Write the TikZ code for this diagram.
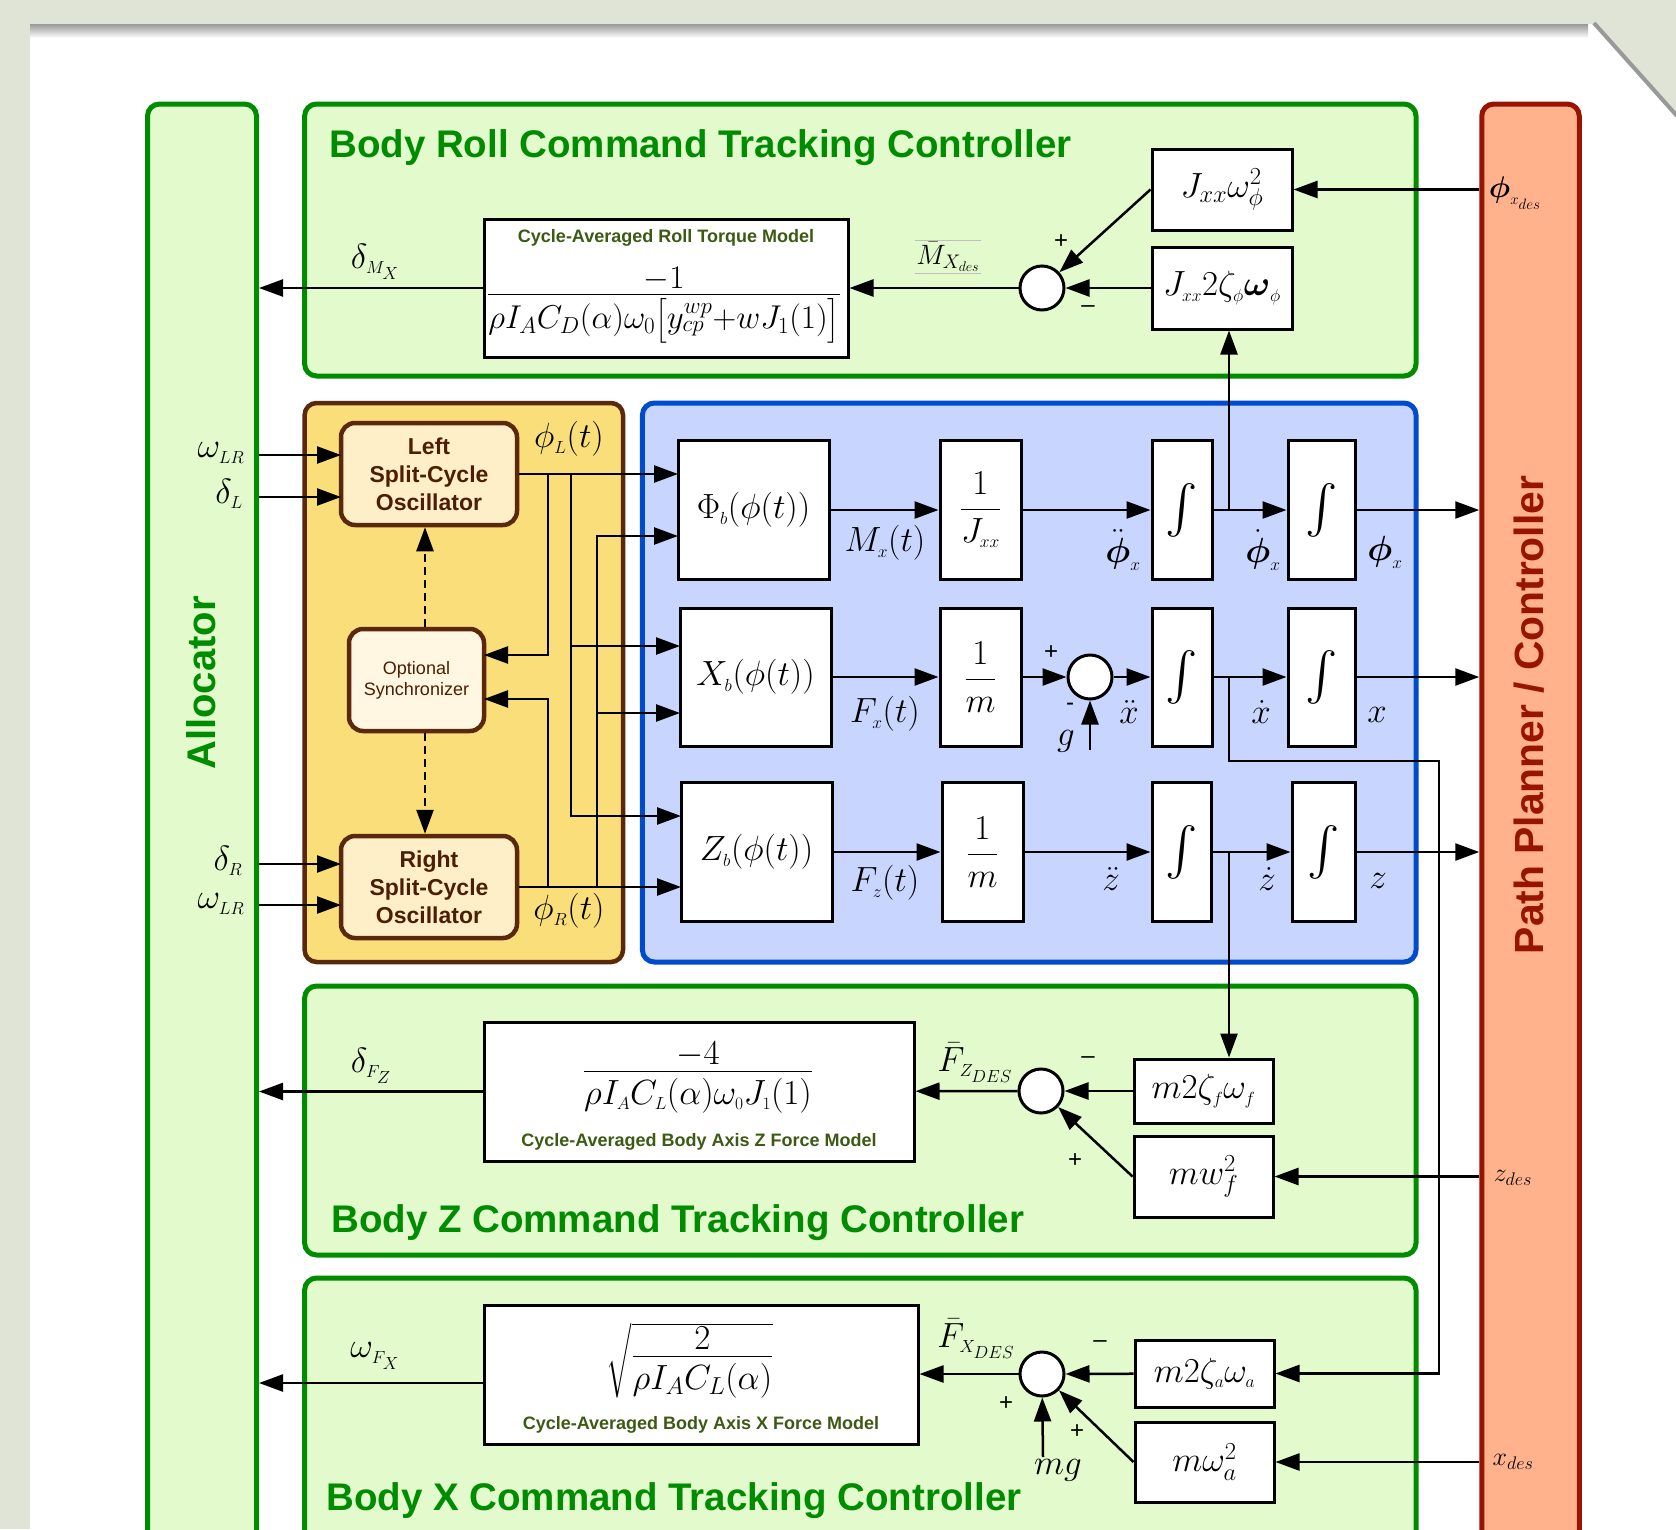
\RequirePackage{fix-cm}
\documentclass[tikz,border=0pt]{standalone}
\usepackage{amsmath}
\usepackage{graphicx}
\usepackage{fontspec}
\setsansfont{Liberation Sans}
\usepackage{tikz}
\usetikzlibrary{arrows.meta}
\definecolor{bgcolor}{RGB}{223,228,214}
\definecolor{ctrlgreen}{RGB}{0,140,0}
\definecolor{ctrlfill}{RGB}{226,250,204}
\definecolor{modelgreen}{RGB}{60,90,20}
\definecolor{oscfill}{RGB}{250,222,122}
\definecolor{oscbrown}{RGB}{90,40,10}
\definecolor{osctext}{RGB}{75,30,5}
\definecolor{oscinner}{RGB}{255,239,200}
\definecolor{syncinner}{RGB}{255,247,226}
\definecolor{plantfill}{RGB}{200,214,255}
\definecolor{plantblue}{RGB}{0,75,205}
\definecolor{ppfill}{RGB}{255,178,140}
\definecolor{ppred}{RGB}{150,20,0}
\newcommand{\blkfont}{\fontsize{35}{42}\selectfont}
\newcommand{\numlow}[1]{\raisebox{-8pt}[0pt][0pt]{$#1$}}
\newcommand{\intsign}{\resizebox{!}{44pt}{$\int$}}
\tikzset{
	ctrlstyle/.style={rectangle,rounded corners=12pt,draw=ctrlgreen,fill=ctrlfill,line width=5pt},
	ppstyle/.style={rectangle,rounded corners=12pt,draw=ppred,fill=ppfill,line width=5pt},
	oscarea/.style={rectangle,rounded corners=12pt,draw=oscbrown,fill=oscfill,line width=4.5pt},
	plantarea/.style={rectangle,rounded corners=12pt,draw=plantblue,fill=plantfill,line width=5pt},
	oscstyle/.style={rectangle,rounded corners=14pt,draw=oscbrown,fill=oscinner,line width=4.5pt,align=center,text=osctext,font=\sffamily\bfseries\fontsize{23}{28}\selectfont,minimum width=176pt,minimum height=102pt,inner sep=0pt},
	syncstyle/.style={rectangle,rounded corners=14pt,draw=oscbrown,fill=syncinner,line width=4.5pt,align=center,text=osctext,font=\sffamily\fontsize{18}{21}\selectfont,minimum width=135pt,minimum height=102pt,inner sep=0pt},
	blockstyle/.style={rectangle,draw=black,fill=white,line width=3pt,inner sep=0pt,font=\blkfont},
	intstyle/.style={blockstyle,minimum height=139pt},
	sumstyle/.style={circle,draw=black,fill=white,line width=3pt,minimum size=44pt,inner sep=0pt},
	labelstyle/.style={inner sep=0pt,font=\blkfont},
	fracstyle/.style={inner sep=0pt,anchor=base,font=\blkfont},
	smalllabel/.style={inner sep=0pt,font=\fontsize{26}{30}\selectfont},
	signstyle/.style={inner sep=0pt,font=\sffamily\fontsize{24}{28}\selectfont},
	modeltext/.style={inner sep=0pt,text=modelgreen,font=\sffamily\bfseries\fontsize{18}{22}\selectfont},
	titlestyle/.style={inner sep=0pt,anchor=base west,text=ctrlgreen,font=\sffamily\bfseries\fontsize{38.5}{44}\selectfont},
	bartext/.style={inner sep=0pt,rotate=90,font=\sffamily\bfseries\fontsize{40}{46}\selectfont},
	arrowstyle/.style={-{Triangle[length=24pt,width=17pt]},line width=2.5pt},
	dashstyle/.style={arrowstyle,dash pattern=on 8pt off 5pt}
}
\begin{document}
\begin{tikzpicture}[x=1pt,y=-1pt]
	\useasboundingbox (0,0) rectangle (1676,1529);
	\clip (0,0) rectangle (1676,1529);
	\fill[bgcolor] (0,0) rectangle (1676,1529);
	\fill[white] (30,24) -- (1592,24) -- (1676,118) -- (1676,1529) -- (30,1529) -- cycle;
	\shade[top color=black!40,bottom color=white] (30,24) rectangle (1588,38);
	\draw[black!40,line width=4pt] (1594,23) -- (1678,117);

	\draw[ctrlstyle] (304.6,104) rectangle (1416,376);
	\draw[ctrlstyle] (304.6,986) rectangle (1416,1255);
	\draw[ctrlstyle] (304.6,1278) rectangle (1416,1620);
	\draw[oscarea] (304.6,403) rectangle (623,962);
	\draw[plantarea] (642.4,403) rectangle (1416,962);

	\node[ctrlstyle,minimum width=109pt,minimum height=1560pt] (alloc) at (202,884) {};
	\node[ppstyle,minimum width=97.5pt,minimum height=1560pt] (pp) at (1530.5,884) {};
	\node[bartext,text=ctrlgreen] at (201,683) {Allocator};
	\node[bartext,text=ppred,font=\sffamily\bfseries\fontsize{40.8}{46}\selectfont] at (1529,715) {Path Planner / Controller};

	\node[titlestyle] at (329,157) {Body Roll Command Tracking Controller};
	\node[titlestyle] at (331,1232) {Body Z Command Tracking Controller};
	\node[titlestyle] at (326,1510) {Body X Command Tracking Controller};

	\node[oscstyle] (losc) at (429,474) {Left\\Split-Cycle\\Oscillator};
	\node[syncstyle] (sync) at (416.5,680) {Optional\\Synchronizer};
	\node[oscstyle] (rosc) at (429,887) {Right\\Split-Cycle\\Oscillator};
	\coordinate (dashx) at (425,0);
	\draw[dashstyle] (sync.north -| dashx) -- (losc.south -| dashx);
	\draw[dashstyle] (sync.south -| dashx) -- (rosc.north -| dashx);

	\coordinate (lin1) at (341,455);
	\coordinate (lin2) at (341,497);
	\coordinate (rin1) at (341,864);
	\coordinate (rin2) at (341,905);
	\draw[arrowstyle] (alloc.east |- lin1) -- (lin1);
	\draw[arrowstyle] (alloc.east |- lin2) -- (lin2);
	\draw[arrowstyle] (alloc.east |- rin1) -- (rin1);
	\draw[arrowstyle] (alloc.east |- rin2) -- (rin2);
	\node[labelstyle] at (221,453) {$\omega_{\scriptscriptstyle LR}$};
	\node[labelstyle] at (229,494) {$\delta_{\scriptscriptstyle L}$};
	\node[labelstyle] at (228,861) {$\delta_{\scriptscriptstyle R}$};
	\node[labelstyle] at (221,904) {$\omega_{\scriptscriptstyle LR}$};
	\node[labelstyle] at (569,439) {$\phi_{\scriptscriptstyle L}(t)$};
	\node[labelstyle] at (569,911) {$\phi_{\scriptscriptstyle R}(t)$};

	\node[blockstyle,minimum width=151pt,minimum height=139pt] (phib) at (753.5,510) {$\Phi_{\scriptscriptstyle b}(\phi(t))$};
	\node[blockstyle,minimum width=81pt,minimum height=139pt] (invj) at (980.5,510) {$\dfrac{1}{J_{\scriptscriptstyle xx}}$};
	\node[intstyle,minimum width=60pt] (inta1) at (1182,510) {\intsign};
	\node[intstyle,minimum width=67pt] (intb1) at (1321.5,510) {\intsign};

	\node[blockstyle,minimum width=151pt,minimum height=138pt] (xb) at (755.5,677) {$X_{\scriptscriptstyle b}(\phi(t))$};
	\node[blockstyle,minimum width=81pt,minimum height=138pt] (invm1) at (980.5,677) {$\dfrac{1}{m}$};
	\node[sumstyle] (sum2) at (1090,677) {};
	\node[intstyle,minimum width=60pt,minimum height=138pt] (inta2) at (1182,677) {\intsign};
	\node[intstyle,minimum width=67pt,minimum height=138pt] (intb2) at (1321.5,677) {\intsign};

	\node[blockstyle,minimum width=151pt,minimum height=139pt] (zb) at (756.5,852) {$Z_{\scriptscriptstyle b}(\phi(t))$};
	\node[blockstyle,minimum width=81pt,minimum height=139pt] (invm2) at (982.5,852) {$\dfrac{1}{m}$};
	\node[intstyle,minimum width=59pt] (inta3) at (1181.5,852) {\intsign};
	\node[intstyle,minimum width=63pt] (intb3) at (1323.5,852) {\intsign};

	\coordinate (phin1) at (678,474);
	\coordinate (phin2) at (678,536);
	\coordinate (xbin1) at (680,646);
	\coordinate (xbin2) at (680,713);
	\coordinate (zbin1) at (681,816);
	\coordinate (zbin2) at (681,887);
	\coordinate (ja) at (548,474);
	\coordinate (jb) at (571,474);
	\coordinate (jc) at (548,887);
	\coordinate (jd) at (597,887);
	\coordinate (syncin1) at (484,655);
	\coordinate (syncin2) at (484,699);
	\draw[arrowstyle] (losc.east |- phin1) -- (phin1);
	\draw[arrowstyle] (rosc.east |- zbin2) -- (zbin2);
	\draw[arrowstyle] (ja) |- (syncin1);
	\draw[arrowstyle] (jb) |- (xbin1);
	\draw[arrowstyle] (jb) |- (zbin1);
	\draw[arrowstyle] (jc) |- (syncin2);
	\draw[arrowstyle] (jd) |- (phin2);
	\draw[arrowstyle] (jd) |- (xbin2);

	\draw[arrowstyle] (phib) -- (invj);
	\draw[arrowstyle] (invj) -- (inta1);
	\draw[arrowstyle] (inta1) -- (intb1);
	\draw[arrowstyle] (intb1) -- (intb1 -| pp.west);
	\draw[arrowstyle] (xb) -- (invm1);
	\draw[arrowstyle] (invm1) -- (sum2);
	\draw[arrowstyle] (sum2) -- (inta2);
	\draw[arrowstyle] (inta2) -- (intb2);
	\draw[arrowstyle] (intb2) -- (intb2 -| pp.west);
	\draw[arrowstyle] (zb) -- (invm2);
	\draw[arrowstyle] (invm2) -- (inta3);
	\draw[arrowstyle] (inta3) -- (intb3);
	\draw[arrowstyle] (intb3) -- (intb3 -| pp.west);
	\coordinate (gin) at (1090,750);
	\draw[arrowstyle] (gin) -- (sum2);

	\node[labelstyle] at (885,543) {$M_{\scriptscriptstyle x}(t)$};
	\node[labelstyle] at (1123,550) {$\ddot{\boldsymbol\phi}_{\scriptscriptstyle x}$};
	\node[labelstyle] at (1263,550) {$\dot{\boldsymbol\phi}_{\scriptscriptstyle x}$};
	\node[labelstyle] at (1385,552) {$\boldsymbol\phi_{\scriptscriptstyle x}$};
	\node[labelstyle] at (885,714) {$F_{\scriptscriptstyle x}(t)$};
	\node[labelstyle] at (1129,712) {$\ddot x$};
	\node[labelstyle] at (1261,712) {$\dot x$};
	\node[labelstyle] at (1377,715) {$x$};
	\node[labelstyle] at (885,883) {$F_{\scriptscriptstyle z}(t)$};
	\node[labelstyle] at (1111,879) {$\ddot z$};
	\node[labelstyle] at (1267,879) {$\dot z$};
	\node[labelstyle] at (1378,881) {$z$};
	\node[labelstyle] at (1066,741) {$g$};
	\node[signstyle] at (1051,653) {+};
	\node[signstyle] at (1070,707) {-};

	\node[blockstyle,minimum width=364pt,minimum height=138pt] (tmodel) at (666,288) {};
	\node[modeltext] at (666,238) {Cycle-Averaged Roll Torque Model};
	\node[fracstyle,font=\fontsize{33}{40}\selectfont] at (664,303) {$\dfrac{\numlow{-1}}{\rho I_A C_D(\alpha)\omega_0\bigl[y_{cp}^{wp}{+}wJ_1(1)\bigr]}$};
	\node[blockstyle,minimum width=140pt,minimum height=81pt] (jww) at (1222,189.5) {$J_{xx}\omega_\phi^2$};
	\node[blockstyle,minimum width=140pt,minimum height=82pt] (jzw) at (1222,288) {$J_{\scriptscriptstyle xx}2\zeta_{\scriptscriptstyle\phi}\boldsymbol\omega_{\scriptscriptstyle\phi}$};
	\node[sumstyle] (sumr) at (1042,288) {};
	\draw[arrowstyle] (pp.west |- jww) -- (jww);
	\draw[arrowstyle] (jww.west) -- (sumr);
	\draw[arrowstyle] (jzw) -- (sumr);
	\draw[arrowstyle] (sumr) -- (tmodel);
	\draw[arrowstyle] (tmodel) -- (tmodel -| alloc.east);
	\coordinate (fbroll) at (1229,510);
	\draw[arrowstyle] (fbroll) -- (fbroll |- jzw.south);
	\node[labelstyle] at (375,262) {$\delta_{\scriptscriptstyle M_X}$};
	\node[labelstyle,font=\fontsize{28}{32}\selectfont,inner sep=1pt] (mxdes) at (948,257) {$\bar{M}_{X_{des}}$};
	\draw[black!25,line width=1pt] (mxdes.north west) -- (mxdes.north east);
	\draw[black!25,line width=1pt] (mxdes.south west) -- (mxdes.south east);
	\node[signstyle] at (1061,242) {+};
	\node[signstyle] at (1088,309) {\textendash};
	\node[labelstyle,font=\fontsize{30}{36}\selectfont] at (1515,193) {$\boldsymbol\phi_{\scriptscriptstyle x_{des}}$};

	\node[blockstyle,minimum width=430pt,minimum height=139pt] (zmodel) at (699,1091.5) {};
	\node[fracstyle] at (698,1080) {$\dfrac{\numlow{-4}}{\rho I_{\scriptscriptstyle A}C_{\scriptscriptstyle L}(\alpha)\omega_{\scriptscriptstyle 0}J_{\scriptscriptstyle 1}(1)}$};
	\node[modeltext] at (699,1142) {Cycle-Averaged Body Axis Z Force Model};
	\node[sumstyle] (sumz) at (1041,1091) {};
	\node[blockstyle,minimum width=139pt,minimum height=64pt] (mzf) at (1203.5,1091) {$m2\zeta_{\scriptscriptstyle f}\omega_{\scriptscriptstyle f}$};
	\node[blockstyle,minimum width=139pt,minimum height=81pt] (mwf) at (1203.5,1176.5) {$mw_f^2$};
	\coordinate (fbz) at (1229,852);
	\draw[arrowstyle] (fbz) -- (fbz |- mzf.north);
	\draw[arrowstyle] (mzf) -- (sumz);
	\draw[arrowstyle] (mwf.west) -- (sumz);
	\draw[arrowstyle] (sumz) -- (zmodel);
	\draw[arrowstyle] (zmodel) -- (zmodel -| alloc.east);
	\draw[arrowstyle] (pp.west |- mwf) -- (mwf);
	\node[labelstyle] at (975,1063) {$\bar F_{\scriptscriptstyle Z_{DES}}$};
	\node[labelstyle] at (371,1066) {$\delta_{\scriptscriptstyle F_Z}$};
	\node[signstyle] at (1088,1060) {\textendash};
	\node[signstyle] at (1075,1161) {+};
	\node[smalllabel] at (1513,1178) {$z_{des}$};

	\node[blockstyle,minimum width=434pt,minimum height=139pt] (xmodel) at (701,1374.5) {};
	\node[fracstyle] at (690,1365) {$\sqrt{\dfrac{\numlow{2}}{\rho I_A C_L(\alpha)}}$};
	\node[modeltext] at (701,1425) {Cycle-Averaged Body Axis X Force Model};
	\node[sumstyle] (sumx) at (1042,1374) {};
	\node[blockstyle,minimum width=139pt,minimum height=67pt] (mza) at (1204.5,1373.5) {$m2\zeta_{\scriptscriptstyle a}\omega_{\scriptscriptstyle a}$};
	\node[blockstyle,minimum width=139pt,minimum height=80pt] (mwa) at (1204.5,1462) {$m\omega_a^2$};
	\coordinate (fbx) at (1229,677);
	\coordinate (fbcorner) at (1439,761);
	\draw[arrowstyle] (fbx) |- (fbcorner) |- (mza);
	\coordinate (xout) at (484,1383);
	\coordinate (mgin) at (1043,1457);
	\draw[arrowstyle] (mza) -- (sumx);
	\draw[arrowstyle] (mwa.west) -- (sumx);
	\draw[arrowstyle] (mgin) -- (sumx);
	\draw[arrowstyle] (sumx) -- (sumx -| xmodel.east);
	\draw[arrowstyle] (xout) -- (xout -| alloc.east);
	\draw[arrowstyle] (pp.west |- mwa) -- (mwa);
	\node[labelstyle] at (976,1339) {$\bar F_{\scriptscriptstyle X_{DES}}$};
	\node[labelstyle] at (375,1356) {$\omega_{\scriptscriptstyle F_X}$};
	\node[signstyle] at (1100,1344) {\textendash};
	\node[signstyle] at (1006,1404) {+};
	\node[signstyle] at (1077,1432) {+};
	\node[labelstyle] at (1058,1470) {$mg$};
	\node[smalllabel] at (1513,1462) {$x_{des}$};
\end{tikzpicture}
\end{document}
